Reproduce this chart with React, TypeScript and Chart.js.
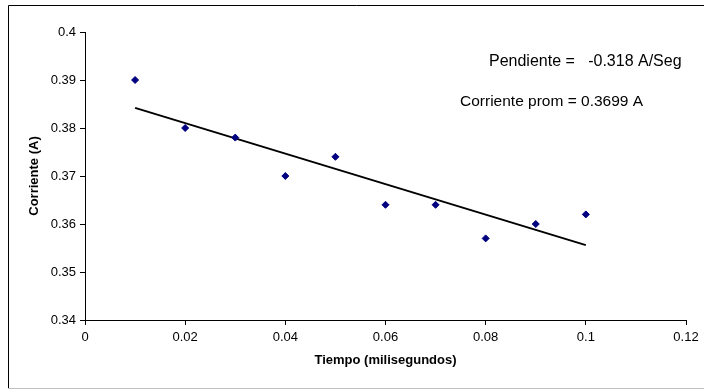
import { useEffect, useRef } from "react";
import { Chart, registerables } from "chart.js";

Chart.register(...registerables);

const tiempo = [0.01, 0.02, 0.03, 0.04, 0.05, 0.06, 0.07, 0.08, 0.09, 0.1];
const corriente = [0.39, 0.38, 0.378, 0.37, 0.374, 0.364, 0.364, 0.357, 0.36, 0.362];
const trendX = [0.01, 0.1];
const trendY = [0.3842, 0.3556];
const xTickValues = [0, 0.02, 0.04, 0.06, 0.08, 0.1, 0.12];
const xTickLabels = ["0", "0.02", "0.04", "0.06", "0.08", "0.1", "0.12"];
const yTickValues = [0.34, 0.35, 0.36, 0.37, 0.38, 0.39, 0.4];
const yTickLabels = ["0.34", "0.35", "0.36", "0.37", "0.38", "0.39", "0.4"];
const xTitle = "Tiempo (milisegundos)";
const yTitle = "Corriente (A)";
const notes = ["Pendiente =   -0.318 A/Seg", "Corriente prom = 0.3699 A"];

const FONT = "'Liberation Sans', Arial, sans-serif";

const framePlugin = {
  id: "frame",
  beforeDraw(chart: any) {
    const ctx = chart.ctx;
    ctx.save();
    ctx.fillStyle = "#fff";
    ctx.fillRect(0, 0, chart.width, chart.height);
    ctx.strokeStyle = "#000";
    ctx.lineWidth = 1;
    ctx.beginPath();
    ctx.moveTo(8.5, 388);
    ctx.lineTo(8.5, 5.5);
    ctx.lineTo(704, 5.5);
    ctx.stroke();
    ctx.strokeStyle = "#c0c0c0";
    ctx.beginPath();
    ctx.moveTo(8, 388.5);
    ctx.lineTo(704, 388.5);
    ctx.stroke();
    ctx.restore();
  },
  afterDraw(chart: any) {
    const ctx = chart.ctx;
    ctx.save();
    ctx.fillStyle = "#000";
    ctx.textBaseline = "middle";
    ctx.textAlign = "left";
    ctx.font = `16px ${FONT}`;
    ctx.fillText(notes[0], 489, 62);
    ctx.font = `15.5px ${FONT}`;
    ctx.fillText(notes[1], 460, 102);
    ctx.restore();
  },
};

export default function App() {
  const ref = useRef<HTMLCanvasElement>(null);
  useEffect(() => {
    if (!ref.current) return;
    const chart = new Chart(ref.current, {
      type: "scatter",
      data: {
        datasets: [
          {
            label: "Corriente",
            data: tiempo.map((t, i) => ({ x: t, y: corriente[i] })),
            pointStyle: "rectRot",
            pointRadius: 3.5,
            pointBorderWidth: 1,
            backgroundColor: "#000080",
            borderColor: "#000080",
            showLine: false,
          },
          {
            label: "Tendencia",
            data: trendX.map((t, i) => ({ x: t, y: trendY[i] })),
            showLine: true,
            borderColor: "#000",
            borderWidth: 2,
            pointRadius: 0,
            fill: false,
          },
        ],
      },
      plugins: [framePlugin],
      options: {
        animation: false,
        responsive: false,
        layout: { padding: { left: 8, right: 18, top: 32, bottom: 0 } },
        plugins: { legend: { display: false }, tooltip: { enabled: false } },
        scales: {
          x: {
            type: "linear",
            min: 0,
            max: 0.12,
            afterBuildTicks: (s: any) => {
              s.ticks = xTickValues.map((v) => ({ value: v }));
            },
            afterFit: (s: any) => {
              s.height = 70;
            },
            ticks: {
              callback: (_v: any, i: number) => xTickLabels[i],
              font: { family: FONT, size: 13 },
              color: "#000",
              padding: 5,
              maxRotation: 0,
              autoSkip: false,
            },
            grid: { drawOnChartArea: false, drawTicks: true, tickLength: 5, color: "#000" },
            border: { display: true, color: "#000", width: 1 },
            title: {
              display: true,
              text: xTitle,
              color: "#000",
              font: { family: FONT, size: 13, weight: "bold" },
              padding: { top: 4, bottom: 22 },
            },
          },
          y: {
            type: "linear",
            min: 0.34,
            max: 0.4,
            afterBuildTicks: (s: any) => {
              s.ticks = yTickValues.map((v) => ({ value: v }));
            },
            afterFit: (s: any) => {
              s.width = 77;
            },
            ticks: {
              callback: (_v: any, i: number) => yTickLabels[i],
              font: { family: FONT, size: 13 },
              color: "#000",
              padding: 4,
              autoSkip: false,
            },
            grid: { drawOnChartArea: false, drawTicks: true, tickLength: 5, color: "#000" },
            border: { display: true, color: "#000", width: 1 },
            title: {
              display: true,
              text: yTitle,
              color: "#000",
              font: { family: FONT, size: 13, weight: "bold" },
              padding: { top: 19, bottom: 4 },
            },
          },
        },
      },
    });
    return () => chart.destroy();
  }, []);
  return (
    <div style={{ position: "absolute", left: 0, top: 0, width: 704, height: 390 }}>
      <canvas ref={ref} width={704} height={390} style={{ display: "block" }} />
    </div>
  );
}
